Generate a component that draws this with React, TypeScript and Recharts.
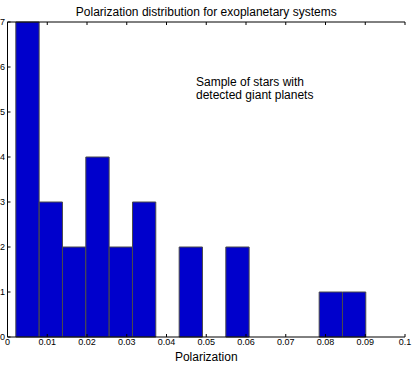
import React from "react";
import {Bar, BarChart, XAxis, YAxis} from "recharts";

// histogram of polarization values (15 bins)
const binCenters = [0.00503, 0.0109, 0.01677, 0.02264, 0.02851, 0.03438, 0.04025, 0.04612,
    0.05199, 0.05786, 0.06373, 0.0696, 0.07547, 0.08134, 0.08721];
const counts = [7, 3, 2, 4, 2, 3, 0, 2, 0, 2, 0, 0, 0, 1, 1];
const binWidth = 0.00587;
const xTicks = [0, 0.01, 0.02, 0.03, 0.04, 0.05, 0.06, 0.07, 0.08, 0.09, 0.1];
const yTicks = [0, 1, 2, 3, 4, 5, 6, 7];

const data = binCenters.map((c, i) => ({center: c, count: counts[i]}));

const W = 415;
const H = 365;
const LEFT = 7.5;
const RIGHT = 10;
const TOP = 21;
const XAXIS_H = 28;
const plotW = W - LEFT - RIGHT;
const FONT = "'Liberation Sans', Arial, sans-serif";
const TICK = 3;

const BottomTick = (props: any) => {
    const {x, y, payload} = props;
    const ay = y - 2;
    return (
        <g>
            <line x1={x} y1={ay} x2={x} y2={ay - TICK} stroke="#000"/>
            <text x={x} y={y + 6} textAnchor="middle" fontSize={9} fontFamily={FONT} fill="#000">
                {String(payload.value)}
            </text>
        </g>
    );
};

const TopTick = (props: any) => {
    const {x, y} = props;
    return <line x1={x} y1={y} x2={x} y2={y + TICK} stroke="#000"/>;
};

const LeftTick = (props: any) => {
    const {x, y, payload} = props;
    const ax = x + 2;
    return (
        <g>
            <line x1={ax} y1={y} x2={ax + TICK} y2={y} stroke="#000"/>
            <text x={x - 0.5} y={y} textAnchor="end" dominantBaseline="central" fontSize={9} fontFamily={FONT}
                  fill="#000">
                {payload.value}
            </text>
        </g>
    );
};

const RightTick = (props: any) => {
    const {x, y} = props;
    return <line x1={x} y1={y} x2={x - TICK} y2={y} stroke="#000"/>;
};

const App: React.FC = () => {
    return (
        <div style={{position: "absolute", left: 0, top: 0, width: W, height: H, background: "#fff"}}>
            <div style={{
                position: "absolute", left: LEFT, width: plotW, top: 5, textAlign: "center",
                fontFamily: FONT, fontSize: 12, lineHeight: "14px"
            }}>
                Polarization distribution for exoplanetary systems
            </div>
            <div style={{
                position: "absolute", left: 196, top: 76, fontFamily: FONT, fontSize: 12,
                lineHeight: "13px"
            }}>
                Sample of stars with<br/>detected giant planets
            </div>
            <BarChart width={W} height={H} data={data}
                      margin={{top: TOP, right: RIGHT, left: 0, bottom: 0}} barCategoryGap={0} barGap={0}>
                <XAxis xAxisId="b" dataKey="center" type="number" domain={[0, 0.1]} ticks={xTicks}
                       allowDataOverflow interval={0} height={XAXIS_H} tickSize={0} tickMargin={2}
                       tick={<BottomTick/>} axisLine={{stroke: "#000"}} tickLine={false}
                       label={{value: "Polarization", position: "insideBottom", offset: 4, fontSize: 12,
                           fontFamily: FONT, fill: "#000"}}/>
                <XAxis xAxisId="t" orientation="top" dataKey="center" type="number" domain={[0, 0.1]}
                       ticks={xTicks} interval={0} height={1} tickSize={0} tickMargin={0}
                       tick={<TopTick/>} axisLine={{stroke: "#000"}} tickLine={false}/>
                <YAxis yAxisId="l" domain={[0, 7]} ticks={yTicks} interval={0} width={LEFT} tickSize={0}
                       tickMargin={2} tick={<LeftTick/>} axisLine={{stroke: "#000"}} tickLine={false}/>
                <YAxis yAxisId="r" orientation="right" domain={[0, 7]} ticks={yTicks} interval={0} width={0}
                       tickSize={0} tickMargin={0} tick={<RightTick/>} axisLine={{stroke: "#000"}}
                       tickLine={false}/>
                <Bar xAxisId="b" yAxisId="l" dataKey="count" fill="#0000cc" stroke="#4a4a4a" strokeWidth={1}
                     barSize={Math.floor(binWidth / 0.1 * plotW * 10) / 10} isAnimationActive={false}/>
            </BarChart>
        </div>
    );
};

export default App;
